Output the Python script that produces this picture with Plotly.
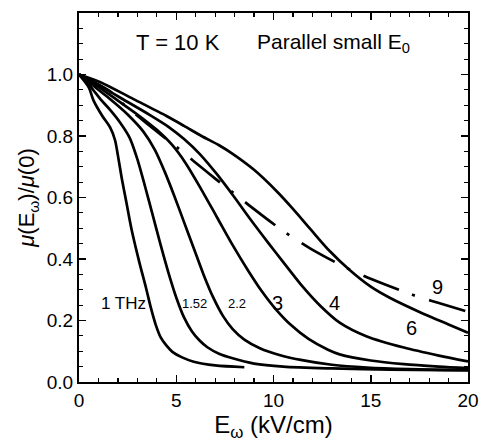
import plotly.graph_objects as go

# ---- data (E in kV/cm, normalized mobility) ----
E_1 = [0, 0.5, 0.75, 1.2, 1.6, 1.85, 2.0, 2.2, 2.45, 2.7, 3.1, 3.45, 3.7, 3.95, 4.2, 4.5, 4.8, 5.3, 5.9, 7.0, 8.5]
MU_1 = [1.0, 0.958, 0.915, 0.865, 0.828, 0.787, 0.737, 0.662, 0.58, 0.497, 0.39, 0.305, 0.24, 0.185, 0.145, 0.118, 0.098, 0.08, 0.066, 0.054, 0.048]

E_152 = [0, 0.6, 1.1, 1.6, 2.1, 2.6, 3.0, 3.4, 3.8, 4.2, 4.6, 5.0, 5.4, 5.8, 6.2, 6.6, 7.2, 7.9, 9, 10.5, 13, 16, 20]
MU_152 = [1.0, 0.96, 0.92, 0.885, 0.845, 0.795, 0.725, 0.635, 0.54, 0.445, 0.355, 0.275, 0.21, 0.165, 0.135, 0.113, 0.092, 0.077, 0.06, 0.05, 0.044, 0.04, 0.038]

E_22 = [0, 0.7, 1.5, 2.5, 3.3, 3.9, 4.4, 4.9, 5.4, 5.9, 6.4, 6.9, 7.4, 7.9, 8.5, 9.3, 10.3, 11.4, 13, 14.8, 17, 20]
MU_22 = [1.0, 0.965, 0.925, 0.87, 0.815, 0.755, 0.685, 0.605, 0.52, 0.435, 0.35, 0.275, 0.215, 0.172, 0.138, 0.11, 0.088, 0.072, 0.056, 0.047, 0.042, 0.039]

E_3 = [0, 1, 2, 3, 4, 4.8, 5.5, 6.3, 7.1, 7.9, 8.7, 9.4, 10.1, 10.9, 11.8, 12.8, 13.4, 15, 16.7, 18.5, 20]
MU_3 = [1.0, 0.96, 0.915, 0.87, 0.82, 0.77, 0.71, 0.625, 0.535, 0.445, 0.362, 0.295, 0.238, 0.185, 0.14, 0.105, 0.09, 0.07, 0.058, 0.05, 0.045]

E_4 = [0, 1.1, 2.3, 3.65, 4.6, 5.4, 6.2, 7.1, 8.0, 8.8, 9.7, 10.5, 11.5, 12.4, 13.4, 14.8, 16.7, 18.5, 20]
MU_4 = [1.0, 0.962, 0.918, 0.868, 0.83, 0.79, 0.742, 0.675, 0.6, 0.53, 0.455, 0.39, 0.31, 0.248, 0.193, 0.148, 0.112, 0.086, 0.067]

E_6 = [0, 1.1, 2.8, 4.5, 5.4, 6.3, 7.2, 7.9, 9, 10.2, 11, 11.9, 12.9, 13.9, 15, 16, 17.7, 19, 20]
MU_6 = [1.0, 0.975, 0.92, 0.865, 0.833, 0.8, 0.77, 0.742, 0.69, 0.618, 0.563, 0.497, 0.425, 0.365, 0.31, 0.273, 0.222, 0.187, 0.16]

E_9 = [0, 1.6, 2.26, 3.5, 4.5, 5.2, 5.9, 6.6, 7.35, 8.0, 8.7, 10.3, 11.0, 11.9, 13.5, 14.3, 15.06, 16.86, 17.6, 18.5, 20]
MU_9 = [1.0, 0.945, 0.905, 0.84, 0.79, 0.755, 0.718, 0.682, 0.644, 0.612, 0.577, 0.5, 0.47, 0.434, 0.379, 0.355, 0.334, 0.29, 0.274, 0.257, 0.228]

X_TICKS = [0, 5, 10, 15, 20]
Y_TICKS = [0.0, 0.2, 0.4, 0.6, 0.8, 1.0]
Y_TICK_TEXT = ["0.0", "0.2", "0.4", "0.6", "0.8", "1.0"]

CURVE_LABELS = ["1 THz", "1.52", "2.2", "3", "4", "6", "9"]
LABEL_E = [2.31, 5.96, 8.14, 10.23, 13.16, 17.1, 18.44]
LABEL_MU = [0.256, 0.256, 0.256, 0.258, 0.258, 0.175, 0.31]
LABEL_SIZE = [17, 13, 13, 20, 20, 20, 20]

FONT = "Liberation Sans, Arial, Helvetica, sans-serif"

fig = go.Figure()
solid = [(E_1, MU_1), (E_152, MU_152), (E_22, MU_22), (E_3, MU_3), (E_4, MU_4), (E_6, MU_6)]
for ex, mu in solid:
    fig.add_trace(go.Scatter(x=ex, y=mu, mode="lines",
                             line=dict(color="black", width=2.7, shape="spline", smoothing=0.8),
                             hoverinfo="skip"))
fig.add_trace(go.Scatter(x=E_9, y=MU_9, mode="lines",
                         line=dict(color="black", width=2.7, shape="spline", smoothing=0.8,
                                   dash="38px,14px,3px,15px"),
                         hoverinfo="skip"))

for txt, ex, mu, sz in zip(CURVE_LABELS, LABEL_E, LABEL_MU, LABEL_SIZE):
    fig.add_annotation(x=ex, y=mu, text=txt, showarrow=False,
                       font=dict(family=FONT, size=sz, color="black"))

fig.add_annotation(x=5.09, y=1.104, text="T = 10 K", showarrow=False,
                   font=dict(family=FONT, size=22, color="black"))
fig.add_annotation(x=13.06, y=1.104, text="Parallel small E<sub>0</sub>", showarrow=False,
                   font=dict(family=FONT, size=21, color="black"))

axis_common = dict(showline=True, linewidth=2, linecolor="black", mirror="allticks",
                   ticks="inside", ticklen=7, tickwidth=1.5, tickcolor="black",
                   showgrid=False, zeroline=False, automargin=False,
                   tickfont=dict(family=FONT, size=19, color="black"))

fig.update_xaxes(range=[0, 20], tickvals=X_TICKS,
                 minor=dict(dtick=1, tick0=0, ticks="inside", ticklen=4, tickwidth=1.2, tickcolor="black"),
                 title=dict(text="E<sub>ω</sub> (kV/cm)", font=dict(family=FONT, size=24, color="black"), standoff=3),
                 **axis_common)
fig.update_yaxes(range=[0, 1.2], tickvals=Y_TICKS, ticktext=Y_TICK_TEXT,
                 minor=dict(dtick=0.05, tick0=0, ticks="inside", ticklen=4, tickwidth=1.2, tickcolor="black"),
                 title=dict(text="<i>μ</i>(E<sub>ω</sub>)/<i>μ</i>(0)", font=dict(family=FONT, size=22, color="black"), standoff=6),
                 **axis_common)

fig.update_layout(width=480, height=442, margin=dict(l=79, r=12, t=13, b=60),
                  paper_bgcolor="white", plot_bgcolor="white", showlegend=False)

fig.write_html("out.html", config={"displayModeBar": False, "staticPlot": True},
               post_script="document.body.style.margin='0';document.body.style.overflow='hidden';")
